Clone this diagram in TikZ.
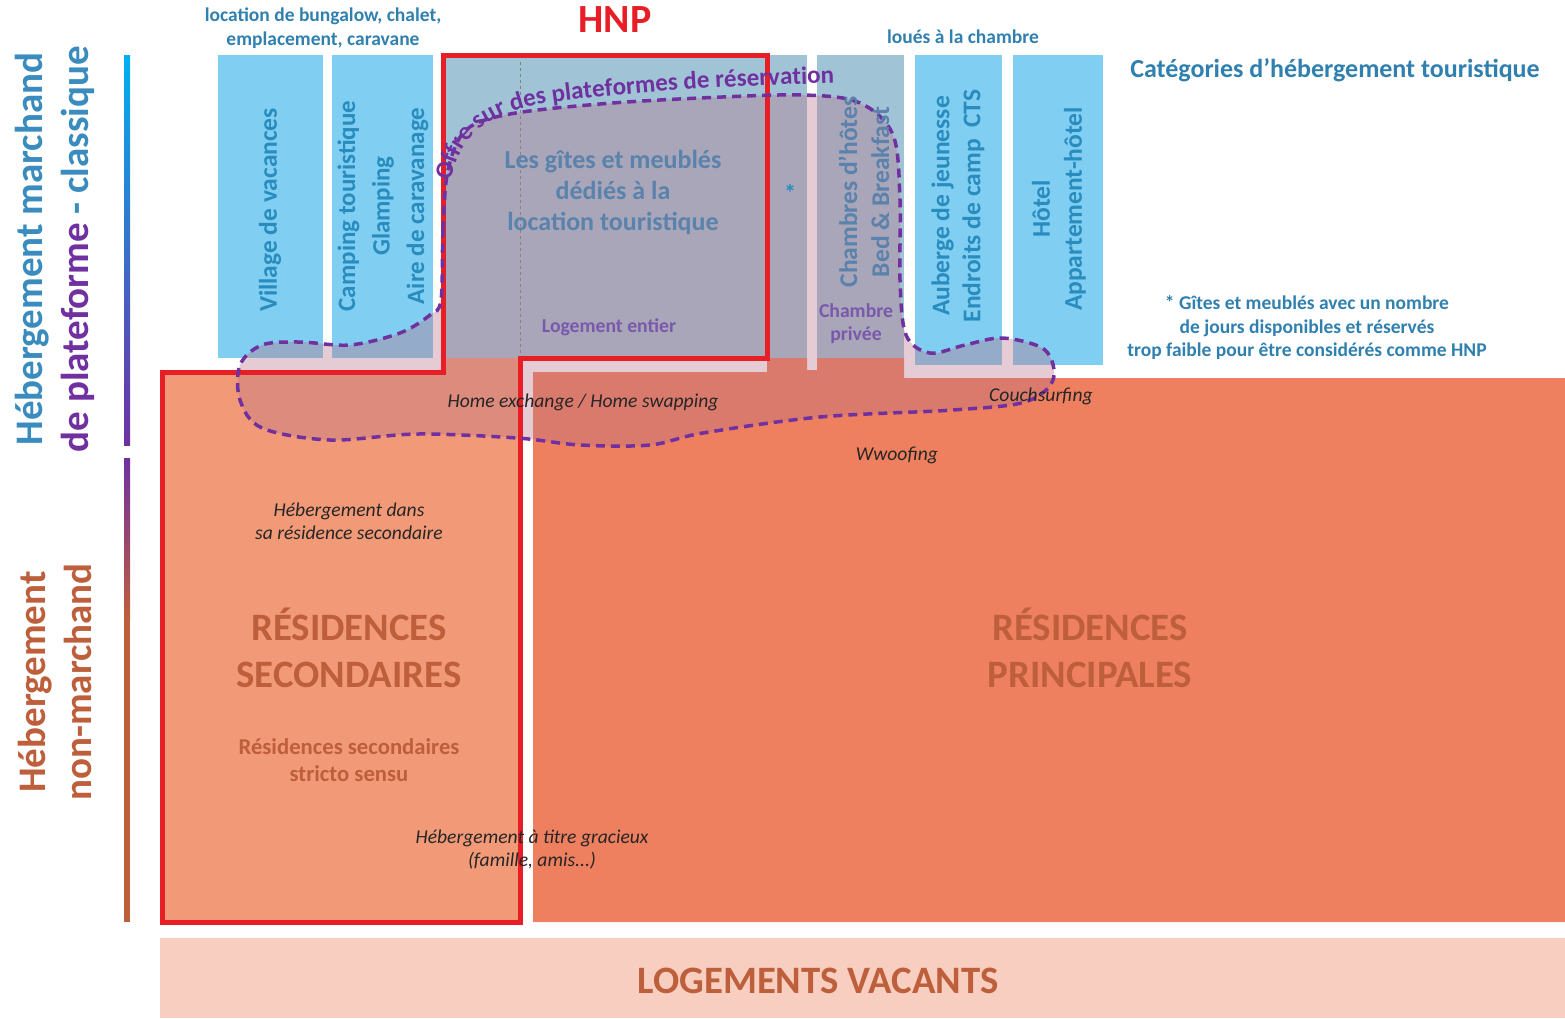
\documentclass[tikz,border=0pt]{standalone}
\usepackage{fontspec}
\setmainfont{Carlito}
\usetikzlibrary{decorations.text}

\definecolor{catblue}{RGB}{128,206,241}
\definecolor{catmuted}{RGB}{160,196,214}
\definecolor{capblue}{RGB}{48,128,175}
\definecolor{sideblue}{RGB}{58,140,190}
\definecolor{boxink}{RGB}{40,140,190}
\definecolor{mutedink}{RGB}{90,130,172}
\definecolor{platpurple}{RGB}{112,48,160}
\definecolor{lilacink}{RGB}{122,88,172}
\definecolor{hnpred}{RGB}{232,30,38}
\definecolor{secsalmon}{RGB}{242,154,120}
\definecolor{prinsalmon}{RGB}{238,127,95}
\definecolor{vacpink}{RGB}{248,206,192}
\definecolor{brownink}{RGB}{190,95,60}
\definecolor{veil}{RGB}{184,115,135}
\definecolor{gradblue}{RGB}{0,176,240}

\newcommand{\fsz}[2]{\fontsize{#1}{#2}\selectfont}
\newcommand{\offrefont}{\fsz{25}{25}\bfseries}

\begin{document}
\begin{tikzpicture}[x=1pt, y=-1pt,
    catbox/.style={fill=catblue},
    mutedbox/.style={fill=catmuted},
    boxlabel/.style={rotate=90, align=center, text=boxink, font=\fsz{25.5}{33}\bfseries},
    caption/.style={align=center, text=capblue, font=\fsz{19.5}{23.5}\bfseries},
    note/.style={align=center, text=black!85, font=\fsz{19.6}{23}\itshape},
    lilac/.style={align=center, text=lilacink, font=\fsz{19.7}{23}\bfseries},
    bigtitle/.style={align=center, text=brownink, font=\fsz{38.8}{47}\bfseries},
    sidelabel/.style={rotate=90, align=center, font=\fsz{39}{46}\bfseries}]
    \useasboundingbox (0,0) rectangle (1565,1018);

    % Side labels and bars
    \node[sidelabel, text=sideblue] (marchand) at (55,249) {Hébergement marchand\\\textcolor{platpurple}{de plateforme} - classique};
    \node[sidelabel, text=brownink] (nonmarchand) at (55,682) {Hébergement\\non-marchand};
    \shade[top color=gradblue, bottom color=platpurple] (124,55) rectangle (130,445);
    \shade[top color=platpurple, bottom color=brownink] (124,458) rectangle (130,620);
    \fill[brownink] (124,620) rectangle (130,922);

    % Accommodation categories
    \fill[catbox] (218,55) rectangle (323,358);
    \fill[catbox] (332,55) rectangle (433,358);
    \fill[mutedbox] (443,55) rectangle (807,358);
    \fill[mutedbox] (817,55) rectangle (904,358);
    \fill[catbox] (915,55) rectangle (1002,365);
    \fill[catbox] (1013,55) rectangle (1103,365);
    \draw[gray, dashed, line width=0.8] (520,62) -- (520,358);

    % Residences
    \fill[secsalmon] (160,372) -- (443,372) -- (443,358) -- (520,358) -- (520,922) -- (160,922) -- cycle;
    \fill[prinsalmon] (533,372) -- (767,372) -- (767,358) -- (807,358) -- (807,370) -- (817,370) -- (817,358)
        -- (904,358) -- (904,378) -- (1565,378) -- (1565,922) -- (533,922) -- cycle;
    \fill[vacpink] (160,938) rectangle (1565,1018);

    % Platform offer
    \path[save path=\offrepath] plot[smooth cycle, tension=.55] coordinates {
        (441,300) (443,230) (448,170) (466,130) (510,114) (600,104) (700,98) (803,95) (860,103)
        (893,135) (900,200) (900,280) (906,335) (930,353) (965,345) (1003,338) (1045,350)
        (1053,380) (1025,402) (953,410) (820,417) (703,433) (650,445) (580,445) (517,438)
        (417,434) (330,440) (262,428) (240,400) (240,365) (262,345) (300,342) (350,345)
        (400,333) (430,315)};
    \fill[veil, fill opacity=.37, use path=\offrepath];

    % HNP boundary
    \draw[hnpred, line width=5] (162,372) -- (443,372) -- (443,55) -- (767,55) -- (767,358)
        -- (520,358) -- (520,922) -- (162,922) -- cycle;
    \draw[platpurple, line width=3.5, dash pattern=on 9pt off 6pt, use path=\offrepath];
    \path[decorate, decoration={text along path, text color=platpurple,
        text={|\offrefont|Offre sur des plateformes de réservation}}]
        (451,181) .. controls (460,132) and (492,110) .. (560,101) .. controls (660,89) and (770,84) .. (890,82);

    % Captions
    \node[caption] (bungalow) at (323,28) {location de bungalow, chalet,\\emplacement, caravane};
    \node[text=hnpred, font=\fsz{40}{40}\bfseries] (hnp) at (615,20) {HNP};
    \node[caption] (chambre) at (963,37) {loués à la chambre};
    \node[caption, font=\fsz{26}{28}\bfseries] (categories) at (1335,70) {Catégories d’hébergement touristique};
    \node[caption] (asterisque) at (1307,328) {* Gîtes et meublés avec un nombre\\de jours disponibles et réservés\\trop faible pour être considérés comme HNP};

    % Category labels
    \node[boxlabel] (village) at (270,210) {Village de vacances};
    \node[boxlabel, font=\fsz{25}{34.5}\bfseries] (camping) at (383,206) {Camping touristique\\Glamping\\Aire de caravanage};
    \node[align=center, text=mutedink, font=\fsz{26}{31}\bfseries] (gites) at (613,192) {Les gîtes et meublés\\dédiés à la\\location touristique};
    \node[lilac] (entier) at (609,327) {Logement entier};
    \node[text=boxink, font=\fsz{24}{24}\bfseries] (etoile) at (790,193) {*};
    \node[boxlabel, text=mutedink, font=\fsz{25.5}{32}\bfseries] (chambres) at (864,192) {Chambres d’hôtes\\Bed \& Breakfast};
    \node[lilac] (privee) at (856,324) {Chambre\\privée};
    \node[boxlabel, font=\fsz{25.5}{31}\bfseries] (auberge) at (958,206) {Auberge de jeunesse\\Endroits de camp~~CTS};
    \node[boxlabel, font=\fsz{25.5}{32}\bfseries] (hotel) at (1059,209) {Hôtel\\Appartement-hôtel};

    % Non-market stays
    \node[note] (homeexchange) at (583,402) {Home exchange / Home swapping};
    \node[note] (couchsurfing) at (1041,396) {Couchsurfing};
    \node[note] (wwoofing) at (897,455) {Wwoofing};
    \node[note] (secdans) at (349,521) {Hébergement dans\\sa résidence secondaire};
    \node[note] (gracieux) at (532,850) {Hébergement à titre gracieux\\(famille, amis...)};

    % Housing stock
    \node[bigtitle] (secondaires) at (349,648) {RÉSIDENCES\\SECONDAIRES};
    \node[align=center, text=brownink, font=\fsz{22.7}{27}\bfseries] (stricto) at (349,760) {Résidences secondaires\\stricto sensu};
    \node[bigtitle] (principales) at (1090,648) {RÉSIDENCES\\PRINCIPALES};
    \node[bigtitle] (vacants) at (818,981) {LOGEMENTS VACANTS};
\end{tikzpicture}
\end{document}
